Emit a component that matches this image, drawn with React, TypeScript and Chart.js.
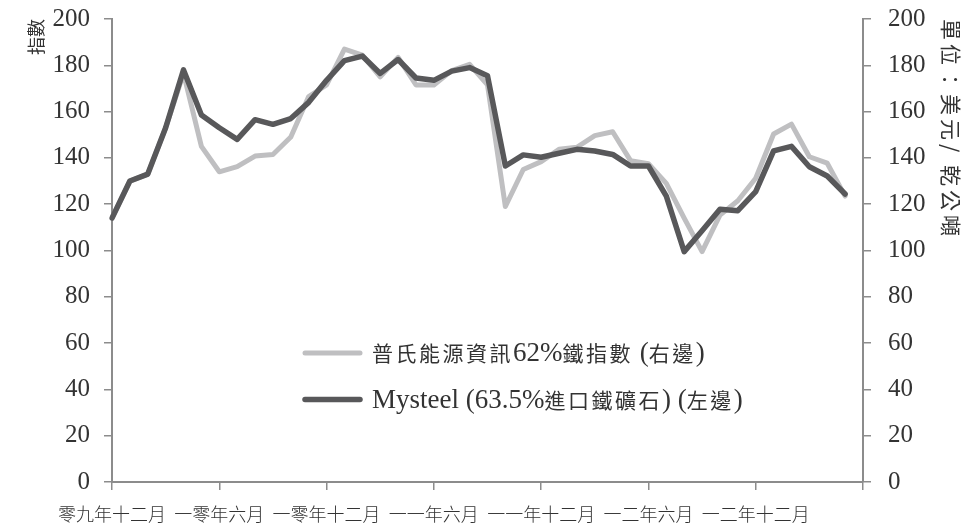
import React, { useEffect, useRef } from 'react';
import { Chart, registerables } from 'chart.js';

Chart.register(...registerables);

// ---- data ----
const MONTH_LABELS = [
  '零九年十二月',
  '一零年一月', '一零年二月', '一零年三月', '一零年四月', '一零年五月', '一零年六月',
  '一零年七月', '一零年八月', '一零年九月', '一零年十月', '一零年十一月', '一零年十二月',
  '一一年一月', '一一年二月', '一一年三月', '一一年四月', '一一年五月', '一一年六月',
  '一一年七月', '一一年八月', '一一年九月', '一一年十月', '一一年十一月', '一一年十二月',
  '一二年一月', '一二年二月', '一二年三月', '一二年四月', '一二年五月', '一二年六月',
  '一二年七月', '一二年八月', '一二年九月', '一二年十月', '一二年十一月', '一二年十二月',
  '一三年一月', '一三年二月', '一三年三月', '一三年四月', '一三年五月', '一三年六月',
];

// 普氏能源資訊62%鐵指數 (right axis)
const PLATTS = [
  114, 130, 133, 153, 176.5, 145, 134, 136.2, 140.8, 141.5, 149, 166.5,
  171.5, 187, 184.4, 175, 183.4, 171.5, 171.5, 177.7, 180.4, 171.5, 119, 135,
  138.4, 143.7, 144.6, 149.6, 151.3, 138.8, 137.5, 129, 114, 99.5, 115.3, 121.5,
  131.2, 150.3, 154.6, 140.5, 137.7, 123.5,
];

// Mysteel (63.5%進口鐵礦石) (left axis)
const MYSTEEL = [
  114, 130, 133, 153, 178, 158.5, 153, 148, 156.5, 154.5, 157, 164,
  173.5, 182, 184, 176.5, 182.5, 174.5, 173.5, 177.5, 179, 175.5, 136.5, 141.3,
  140.3, 142, 143.7, 143, 141.5, 136.5, 136.5, 123.5, 99.5, 108.5, 117.8, 117.2,
  125.4, 143, 145, 136.2, 132.2, 124.4,
];

const SERIES_NAMES = ['普氏能源資訊62%鐵指數 (右邊)', 'Mysteel (63.5%進口鐵礦石) (左邊)'];
const LEFT_TITLE = '指數';
const RIGHT_TITLE = '單位：美元/ 乾公噸';
const Y_MIN = 0;
const Y_MAX = 200;
const Y_STEP = 20;
const X_LABEL_EVERY = 6;

// ---- styles ----
const AXIS = '#8c8c8c';
const TEXT = '#333333';
const LIGHT = '#bfbfc1';
const DARK = '#58585a';
const NUM_FONT = { family: "'Liberation Serif', 'DejaVu Serif', serif", size: 25 };
const CJK_FAMILY = "'Noto Sans CJK TC', 'Noto Sans CJK SC', sans-serif";
const LATIN_FAMILY = "'Liberation Serif', 'DejaVu Serif', serif";

const CJK_CLASS = '\u2e80-\u9fff\u3000-\u303f\uff00-\uffef';
const RUN_RE = new RegExp(`[${CJK_CLASS}]+|[^${CJK_CLASS}]+`, 'g');
const IS_CJK = new RegExp(`[${CJK_CLASS}]`);

function drawRuns(ctx: any, text: string, x: number, baseline: number) {
  const runs = text.match(RUN_RE) || [];
  let cx = x;
  for (const run of runs) {
    const cjk = IS_CJK.test(run);
    ctx.font = cjk ? `21px ${CJK_FAMILY}` : `27px ${LATIN_FAMILY}`;
    ctx.letterSpacing = cjk ? '2.5px' : '0px';
    ctx.fillText(run, cx, baseline);
    cx += ctx.measureText(run).width;
  }
  ctx.letterSpacing = '0px';
}

const insideLegend = {
  id: 'insideLegend',
  afterDatasetsDraw(chart: any) {
    const { ctx, chartArea } = chart;
    const lx = chartArea.left + 193;
    const ly = chartArea.top + 334;
    const gap = 46.5;
    chart.data.datasets.forEach((ds: any, k: number) => {
      const y = ly + k * gap;
      ctx.save();
      ctx.strokeStyle = ds.borderColor;
      ctx.lineWidth = ds.borderWidth;
      ctx.lineCap = 'round';
      ctx.beginPath();
      ctx.moveTo(lx, y);
      ctx.lineTo(lx + 55, y);
      ctx.stroke();
      ctx.fillStyle = TEXT;
      ctx.textBaseline = 'alphabetic';
      ctx.textAlign = 'left';
      drawRuns(ctx, ds.label, lx + 67, y + 8);
      ctx.restore();
    });
  },
};

// right-axis unit title, drawn rotated with a little tracking
const rightTitle = {
  id: 'rightTitle',
  afterDraw(chart: any) {
    const { ctx, chartArea } = chart;
    ctx.save();
    ctx.translate(chartArea.right + 88, chartArea.top);
    ctx.rotate(Math.PI / 2);
    ctx.font = `21px ${CJK_FAMILY}`;
    ctx.letterSpacing = '4px';
    ctx.fillStyle = TEXT;
    ctx.textAlign = 'left';
    ctx.textBaseline = 'middle';
    ctx.fillText(RIGHT_TITLE, 0, 0);
    ctx.restore();
  },
};

const noVPad = (s: any) => {
  s.paddingTop = 0;
  s.paddingBottom = 0;
};

export default function App() {
  const ref = useRef<HTMLCanvasElement>(null);

  useEffect(() => {
    if (!ref.current) return;
    const chart = new Chart(ref.current, {
      type: 'line',
      data: {
        labels: MONTH_LABELS,
        datasets: [
          {
            label: SERIES_NAMES[0],
            data: PLATTS,
            yAxisID: 'y1',
            borderColor: LIGHT,
            backgroundColor: LIGHT,
            borderWidth: 5,
            pointRadius: 0,
            tension: 0,
            borderJoinStyle: 'round',
            borderCapStyle: 'round',
            order: 2,
          },
          {
            label: SERIES_NAMES[1],
            data: MYSTEEL,
            yAxisID: 'y',
            borderColor: DARK,
            backgroundColor: DARK,
            borderWidth: 5.5,
            pointRadius: 0,
            tension: 0,
            borderJoinStyle: 'round',
            borderCapStyle: 'round',
            order: 1,
          },
        ],
      },
      options: {
        responsive: false,
        animation: false,
        devicePixelRatio: 1,
        layout: { autoPadding: false, padding: { top: 19, left: 0, right: 0, bottom: 0 } },
        plugins: {
          legend: { display: false },
          tooltip: { enabled: false },
        },
        scales: {
          x: {
            type: 'category',
            offset: false,
            grid: {
              drawOnChartArea: false,
              drawTicks: true,
              tickLength: 8,
              lineWidth: 1.5,
              color: (c: any) => (c.index % X_LABEL_EVERY === 0 ? AXIS : 'rgba(0,0,0,0)'),
            },
            border: { display: true, color: AXIS, width: 2 },
            ticks: {
              autoSkip: false,
              maxRotation: 0,
              minRotation: 0,
              padding: 13,
              color: TEXT,
              font: { family: CJK_FAMILY, size: 18, weight: 300 as any },
              callback: (_v: any, i: number) =>
                i % X_LABEL_EVERY === 0 && i < MONTH_LABELS.length - 1 ? MONTH_LABELS[i] : '',
            },
            afterFit: (s: any) => { s.height = 45; },
          },
          y: {
            position: 'left',
            min: Y_MIN,
            max: Y_MAX,
            ticks: { stepSize: Y_STEP, padding: 14, color: TEXT, font: NUM_FONT },
            grid: { drawOnChartArea: false, tickLength: 8, lineWidth: 1.5, color: AXIS },
            border: { display: true, color: AXIS, width: 2 },
            title: {
              display: true,
              text: LEFT_TITLE,
              align: 'end',
              color: TEXT,
              font: { family: CJK_FAMILY, size: 18 },
              padding: { top: 25, bottom: 0 },
            },
            afterFit: (s: any) => { s.width = 112; noVPad(s); },
          },
          y1: {
            position: 'right',
            min: Y_MIN,
            max: Y_MAX,
            ticks: { stepSize: Y_STEP, padding: 17, color: TEXT, font: NUM_FONT },
            grid: { drawOnChartArea: false, tickLength: 8, lineWidth: 1.5, color: AXIS },
            border: { display: true, color: AXIS, width: 2 },
            afterFit: (s: any) => { s.width = 107; noVPad(s); },
          },
        },
      },
      plugins: [insideLegend, rightTitle],
    } as any);
    return () => chart.destroy();
  }, []);

  return (
    <div style={{ position: 'absolute', left: 0, top: 0, width: 970, height: 527, background: '#fff' }}>
      <canvas ref={ref} width={970} height={527} style={{ display: 'block', width: 970, height: 527 }} />
    </div>
  );
}
